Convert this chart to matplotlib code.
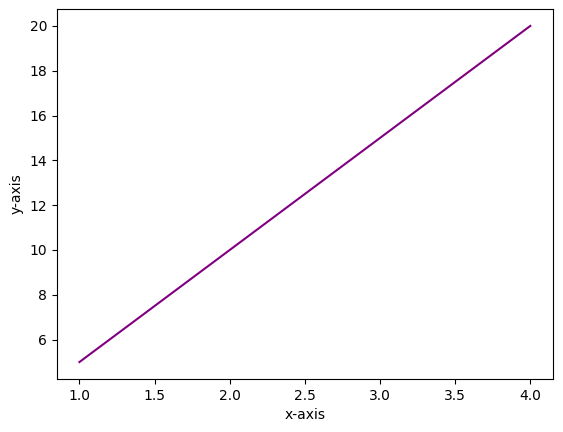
import matplotlib
matplotlib.use("Agg")
import matplotlib.pyplot as plt

x = [1, 2, 3, 4]
y = [5, 10, 15, 20]

fig = plt.figure(figsize=(5.63, 4.32), dpi=100)
ax = fig.gca()
ax.plot(x, y, color="purple")
ax.set_xlabel("x-axis")
ax.set_ylabel("y-axis")
fig.subplots_adjust(left=0.101, right=0.982, top=0.979, bottom=0.123)
fig.savefig("out.png", dpi=100)
